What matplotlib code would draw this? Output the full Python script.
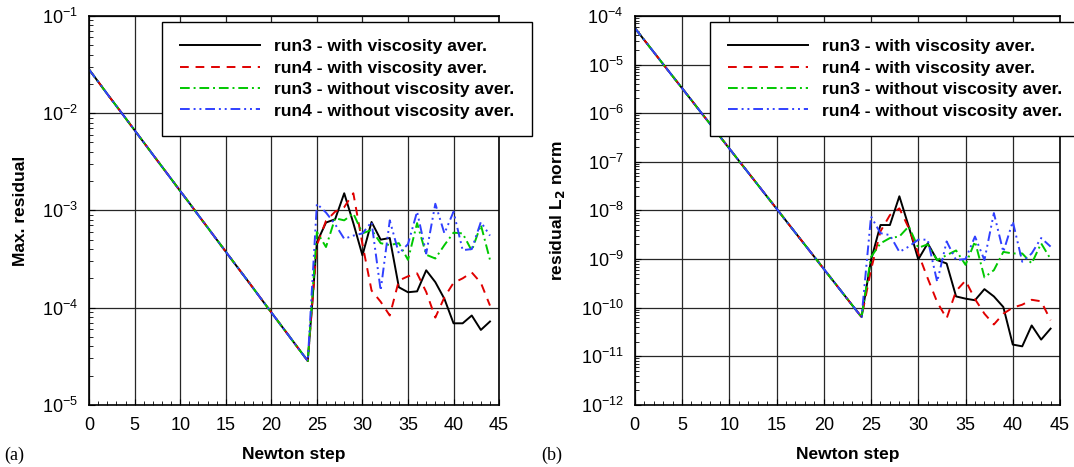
import matplotlib
matplotlib.use('Agg')
import matplotlib.pyplot as plt
from matplotlib.ticker import LogLocator, MultipleLocator, NullFormatter

plt.rcParams['font.family'] = ['Liberation Sans', 'DejaVu Sans']

steps = list(range(45))
labels = ['run3 - with viscosity aver.', 'run4 - with viscosity aver.',
          'run3 - without viscosity aver.', 'run4 - without viscosity aver.']

# (a) max residual - steps 0..24 are the same for all runs
max_common = [0.028, 0.021, 0.0157, 0.0118, 0.00887, 0.00665, 0.00499, 0.00374, 0.00281,
              0.00211, 0.00158, 0.00119, 8.89e-4, 6.68e-4, 5.01e-4, 3.76e-4, 2.82e-4,
              2.12e-4, 1.59e-4, 1.19e-4, 8.93e-5, 6.70e-5, 5.03e-5, 3.77e-5, 2.83e-5]
max_run3_with = [4.7e-4, 7.5e-4, 8.1e-4, 1.5e-3, 7.4e-4, 3.45e-4, 7.6e-4, 5.0e-4, 5.2e-4, 1.62e-4,
                 1.44e-4, 1.47e-4, 2.42e-4, 1.83e-4, 1.23e-4, 6.9e-5, 6.9e-5, 8.3e-5, 5.9e-5, 7.2e-5]
max_run4_with = [4.4e-4, 7.8e-4, 9.7e-4, 1.08e-3, 1.5e-3, 4.5e-4, 1.5e-4, 1.15e-4, 8.3e-5, 1.9e-4,
                 2.1e-4, 2.25e-4, 1.45e-4, 7.9e-5, 1.28e-4, 1.8e-4, 2.0e-4, 2.3e-4, 1.8e-4, 1.05e-4]
max_run3_without = [6.0e-4, 4.2e-4, 8.3e-4, 7.9e-4, 9.3e-4, 5.8e-4, 6.3e-4, 4.6e-4, 4.4e-4, 4.6e-4,
                    3.1e-4, 7.4e-4, 3.5e-4, 3.2e-4, 4.4e-4, 5.9e-4, 5.8e-4, 3.85e-4, 7.1e-4, 3.1e-4]
max_run4_without = [1.17e-3, 9.5e-4, 7.2e-4, 5.1e-4, 5.5e-4, 5.8e-4, 7.6e-4, 1.5e-4, 7.9e-4, 3.6e-4,
                    4.5e-4, 9.7e-4, 3.6e-4, 1.17e-3, 5.8e-4, 9.7e-4, 3.9e-4, 4.0e-4, 7.6e-4, 5.5e-4]

# (b) residual L2 norm
l2_common = [5.66e-5, 3.20e-5, 1.81e-5, 1.02e-5, 5.78e-6, 3.27e-6, 1.85e-6, 1.04e-6, 5.90e-7,
             3.33e-7, 1.88e-7, 1.06e-7, 6.01e-8, 3.40e-8, 1.92e-8, 1.09e-8, 6.14e-9, 3.47e-9,
             1.96e-9, 1.11e-9, 6.26e-10, 3.54e-10, 2.00e-10, 1.13e-10, 6.4e-11]
l2_run3_with = [9.5e-10, 5.0e-9, 5.0e-9, 1.95e-8, 4.6e-9, 9.8e-10, 2.1e-9, 9.5e-10, 8.1e-10, 1.7e-10,
                1.53e-10, 1.42e-10, 2.4e-10, 1.7e-10, 1.03e-10, 1.74e-11, 1.6e-11, 4.3e-11, 2.2e-11, 3.7e-11]
l2_run4_with = [6e-10, 3.7e-9, 8.0e-9, 1.1e-8, 4.3e-9, 1.3e-9, 4.0e-10, 1.3e-10, 6e-11, 2.2e-10,
                3.6e-10, 1.5e-10, 7.5e-11, 4.5e-11, 7.5e-11, 1.0e-10, 1.15e-10, 1.45e-10, 1.35e-10, 5.5e-11]
l2_run3_without = [1.1e-9, 2.1e-9, 2.7e-9, 2.9e-9, 4.7e-9, 1.7e-9, 2.0e-9, 9.5e-10, 1.2e-9, 1.5e-9,
                   7.6e-10, 2.3e-9, 4.2e-10, 5.9e-10, 1.4e-9, 1.3e-9, 1.3e-9, 8.1e-10, 2.1e-9, 1.0e-9]
l2_run4_without = [7.5e-9, 3.4e-9, 3.1e-9, 1.4e-9, 1.8e-9, 2.5e-9, 2.5e-9, 3.4e-10, 2.3e-9, 9.5e-10,
                   1.0e-9, 2.9e-9, 9.5e-10, 8.8e-9, 1.4e-9, 5.9e-9, 8.8e-10, 1.3e-9, 2.7e-9, 1.8e-9]

styles = [
    dict(color='black', linestyle='-'),
    dict(color='#e00000', dashes=(4.5, 3.5)),
    dict(color='#00c800', dashes=(5, 2, 1, 2)),
    dict(color='#3040ff', dashes=(5, 2, 1, 2, 1, 2)),
]


def draw_panel(ax, common, tails, ylim, ylabel):
    for tail, st, lab in zip(tails, styles, labels):
        ax.plot(steps, common + tail, lw=1.4, label=lab, **st)
    ax.set_yscale('log')
    ax.set_xlim(0, 45)
    ax.set_ylim(*ylim)
    ax.xaxis.set_major_locator(MultipleLocator(5))
    ax.xaxis.set_minor_locator(MultipleLocator(1))
    ax.yaxis.set_major_locator(LogLocator(base=10, numticks=20))
    ax.yaxis.set_minor_locator(LogLocator(base=10, subs=range(2, 10), numticks=20))
    ax.yaxis.set_minor_formatter(NullFormatter())
    ax.tick_params(which='both', direction='in', labelsize=13, top=False, right=False)
    ax.tick_params(axis='y', pad=8)
    ax.tick_params(axis='x', pad=9)
    ax.tick_params(which='major', length=4)
    ax.tick_params(which='minor', length=3)
    ax.grid(True, which='major', color='0.15', lw=0.9)
    for sp in ax.spines.values():
        sp.set_linewidth(1.2)
    ax.set_xlabel('Newton step', fontsize=12.5, fontweight='bold', labelpad=9)
    ax.set_ylabel(ylabel, fontsize=12.5, fontweight='bold', labelpad=10)
    leg = ax.legend(loc='upper left', bbox_to_anchor=(0.178, 0.985), borderaxespad=0,
                    fancybox=False, framealpha=1, edgecolor='black', handlelength=4.6,
                    handletextpad=0.8, labelspacing=0.35, borderpad=1.0,
                    prop={'weight': 'bold', 'size': 12.6})
    leg.get_frame().set_linewidth(1.0)
    leg.set_zorder(5)


fig = plt.figure(figsize=(10.74, 4.67), dpi=100)
ax1 = fig.add_axes([0.083, 0.133, 0.3817, 0.833])
ax2 = fig.add_axes([0.591, 0.133, 0.396, 0.833])

draw_panel(ax1, max_common,
           [max_run3_with, max_run4_with, max_run3_without, max_run4_without],
           (1e-5, 1e-1), 'Max. residual')
draw_panel(ax2, l2_common,
           [l2_run3_with, l2_run4_with, l2_run3_without, l2_run4_without],
           (1e-12, 1e-4), r'residual L$_\mathbf{2}$ norm')

fig.text(0.004, 0.016, '(a)', fontsize=13, family='Liberation Serif')
fig.text(0.504, 0.016, '(b)', fontsize=13, family='Liberation Serif')

fig.savefig('out.png', dpi=100)
